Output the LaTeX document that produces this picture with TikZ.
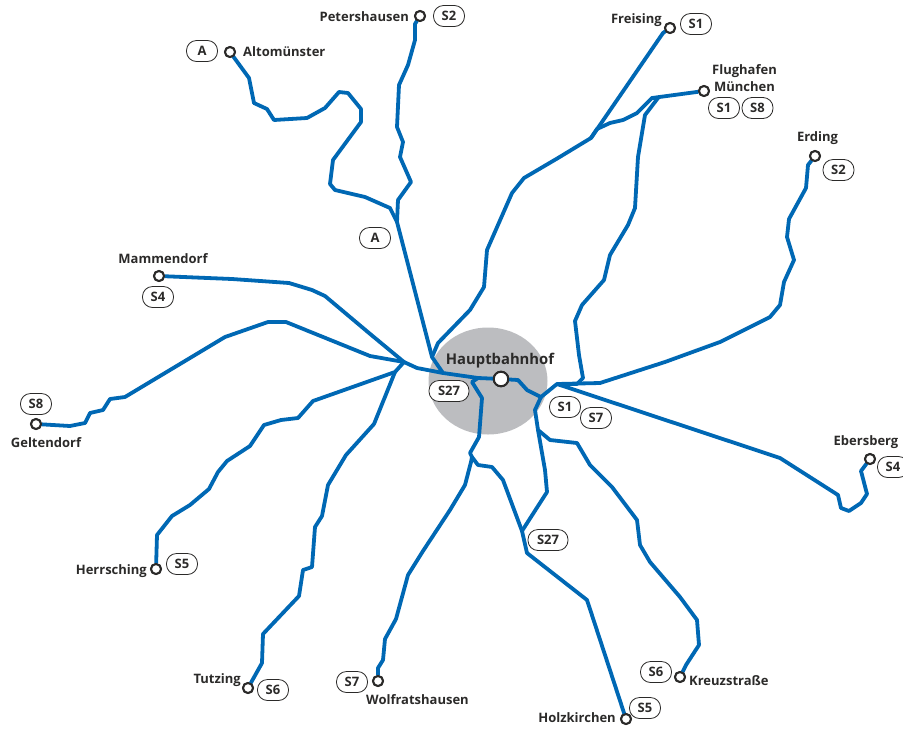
\documentclass[tikz,border=0pt]{standalone}
\usepackage{fontspec}
\setmainfont{Open Sans}
\definecolor{lineblue}{HTML}{0068B4}
\definecolor{hubgrey}{HTML}{BCBDC0}
\definecolor{inkdark}{HTML}{2B2A29}
\tikzset{
  route/.style={draw=lineblue,line width=3.8pt,line join=round,line cap=round},
  stop/.style={circle,draw=inkdark,fill=white,line width=2pt,minimum size=10pt,inner sep=0pt},
  hub/.style={circle,draw=inkdark,fill=white,line width=2pt,minimum size=14.5pt,inner sep=0pt},
  pill/.style={draw=inkdark,fill=white,rounded corners=10pt,line width=.8pt,minimum width=31pt,minimum height=21pt,inner sep=0pt,text=inkdark,font=\fontsize{13}{13}\selectfont\bfseries},
  widepill/.style={pill,minimum width=40pt},
  place/.style={inner sep=0pt,text=inkdark,font=\fontsize{13}{17}\selectfont\bfseries,align=center},
}
\begin{document}
\begin{tikzpicture}[x=1pt,y=-1pt]
\useasboundingbox (0,0) rectangle (903,729);
\clip (0,0) rectangle (903,729);
\fill[hubgrey] (488,381) ellipse [x radius=59.5,y radius=53.5];
% stations
\node[hub] (hbf) at (501,379) {};
\node[stop] (peter) at (420,16) {};
\node[stop] (alto) at (230,52) {};
\node[stop] (frei) at (670,28) {};
\node[stop] (flug) at (704,91) {};
\node[stop] (erd) at (815,156) {};
\node[stop] (eber) at (870,459) {};
\node[stop] (mamm) at (159,276) {};
\node[stop] (gelt) at (36,424) {};
\node[stop] (herr) at (156,569) {};
\node[stop] (tutz) at (248,688) {};
\node[stop] (wolf) at (378,681) {};
\node[stop] (holz) at (626,719) {};
\node[stop] (kreuz) at (680,677) {};
% junctions
\coordinate (jn) at (397,222);
\coordinate (jw) at (404,362);
\coordinate (jt) at (395,372);
\coordinate (jc) at (432,357);
\coordinate (jm) at (443,373);
\coordinate (jf) at (591,138);
\coordinate (ja) at (652,98);
\coordinate (je) at (557,384);
\coordinate (js) at (541,397);
\coordinate (jk) at (538,430);
\coordinate (jz) at (472,457);
\coordinate (jb) at (522,531);
\coordinate (jr) at (478,378);
\draw[route] (alto) -- (249,78) -- (254,103) -- (267,109) -- (274,120) -- (307,118) -- (325,108) -- (339,92) -- (348,93) -- (361,109) -- (361,122) -- (333,160) -- (330,184) -- (335,190) -- (365,197) -- (390,208) -- (jn);
\draw[route] (peter) -- (415,24) -- (415,40) -- (408,65) -- (399,85) -- (397,127) -- (403,142) -- (400,157) -- (411,182) -- (398,200) -- (jn);
\draw[route] (jn) -- (jc) -- (jm) -- (jr) -- (hbf);
\draw[route] (frei) -- (663,33) -- (jf) -- (558,158) -- (524,178) -- (512,193) -- (487,250) -- (484,287) -- (470,310) -- (438,343) -- (jc);
\draw[route] (flug) -- (ja) -- (637,113) -- (623,120) -- (610,123) -- (597,129) -- (jf);
\draw[route] (ja) -- (658,98) -- (645,115) -- (638,157) -- (635,208) -- (628,225) -- (610,255) -- (604,280) -- (582,305) -- (575,321) -- (579,355) -- (583,378) -- (577,384) -- (je);
\draw[route] (mamm) -- (232,279) -- (289,283) -- (312,290) -- (325,296) -- (369,333) -- (jw) -- (417,368) -- (jm);
\draw[route] (gelt) -- (70,426) -- (85,423) -- (90,413) -- (103,410) -- (110,399) -- (125,397) -- (225,337) -- (268,322) -- (286,322) -- (370,356) -- (jw);
\draw[route] (herr) -- (157,535) -- (172,516) -- (190,505) -- (209,489) -- (218,472) -- (227,461) -- (250,446) -- (264,425) -- (281,420) -- (298,418) -- (313,401) -- (jt) -- (jw);
\draw[route] (tutz) -- (262,663) -- (263,634) -- (281,615) -- (299,596) -- (303,570) -- (312,567) -- (315,527) -- (322,516) -- (328,485) -- (346,455) -- (374,424) -- (jt);
\draw[route] (wolf) -- (378,668) -- (383,660) -- (385,639) -- (396,619) -- (408,575) -- (423,551) -- (450,510) -- (465,485) -- (471,462) -- (jz) -- (470,453) -- (479,437) -- (482,398) -- (472,382) -- (jr);
\draw[route] (holz) -- (587,600) -- (527,553) -- (jb) -- (503,480) -- (492,467) -- (478,465) -- (jz);
\draw[route] (jb) -- (547,492) -- (545,470) -- (jk) -- (535,410) -- (js);
\draw[route] (hbf) -- (518,380) -- (527,390) -- (js) -- (je);
\draw[route] (je) -- (600,383) -- (665,362) -- (720,342) -- (770,317) -- (780,305) -- (784,282) -- (794,260) -- (787,237) -- (789,219) -- (806,188) -- (808,165) -- (erd);
\draw[route] (je) -- (780,458) -- (838,495) -- (841,508) -- (849,511) -- (861,503) -- (867,494) -- (861,471) -- (eber);
\draw[route] (kreuz) -- (686,665) -- (699,645) -- (697,620) -- (680,597) -- (650,562) -- (640,545) -- (637,520) -- (612,487) -- (590,465) -- (577,443) -- (550,440) -- (jk);
\node[hub] at (hbf) {};
\foreach \s in {peter,alto,frei,flug,erd,eber,mamm,gelt,herr,tutz,wolf,holz,kreuz} \node[stop] at (\s) {};
% place names
\node[place,anchor=east] (lpeter) at (409,17) {Petershausen};
\node[place,anchor=west] (lalto) at (243,52) {Altomünster};
\node[place,anchor=east] (lfrei) at (662,20) {Freising};
\node[place] (lflug) at (744.5,78) {Flughafen\\München};
\node[place] (lerd) at (817.5,138) {Erding};
\node[place] (lmamm) at (163,259) {Mammendorf};
\node[place] (lgelt) at (46,443) {Geltendorf};
\node[place,anchor=east] (lherr) at (147,571) {Herrsching};
\node[place,anchor=east] (ltutz) at (241,680) {Tutzing};
\node[place,anchor=west] (lwolf) at (366,700) {Wolfratshausen};
\node[place,anchor=east] (lholz) at (616,718) {Holzkirchen};
\node[place,anchor=west] (lkreuz) at (689,681) {Kreuzstraße};
\node[place] (leber) at (866,442) {Ebersberg};
\node[place,font=\fontsize{14.8}{15}\selectfont\bfseries] (lhbf) at (500,361) {Hauptbahnhof};
% line badges
\node[pill] (p1) at (449,16) {S2};
\node[pill] (p2) at (202,51) {A};
\node[pill] (p3) at (696,24) {S1};
\node[pill] (p4) at (724,108) {S1};
\node[pill] (p5) at (757.5,108) {S8};
\node[pill] (p6) at (838.5,170) {S2};
\node[pill] (p7) at (375,238) {A};
\node[pill] (p8) at (158,297) {S4};
\node[pill] (p9) at (36,404) {S8};
\node[widepill] (p10) at (449,391) {S27};
\node[pill] (p11) at (565,407) {S1};
\node[pill] (p12) at (596,418) {S7};
\node[pill] (p13) at (182,564) {S5};
\node[pill] (p14) at (273,690) {S6};
\node[pill] (p15) at (352,682) {S7};
\node[widepill] (p16) at (548,540) {S27};
\node[pill] (p17) at (656,672) {S6};
\node[pill] (p18) at (645,708) {S5};
\node[pill] (p19) at (893,467) {S4};
\end{tikzpicture}
\end{document}
